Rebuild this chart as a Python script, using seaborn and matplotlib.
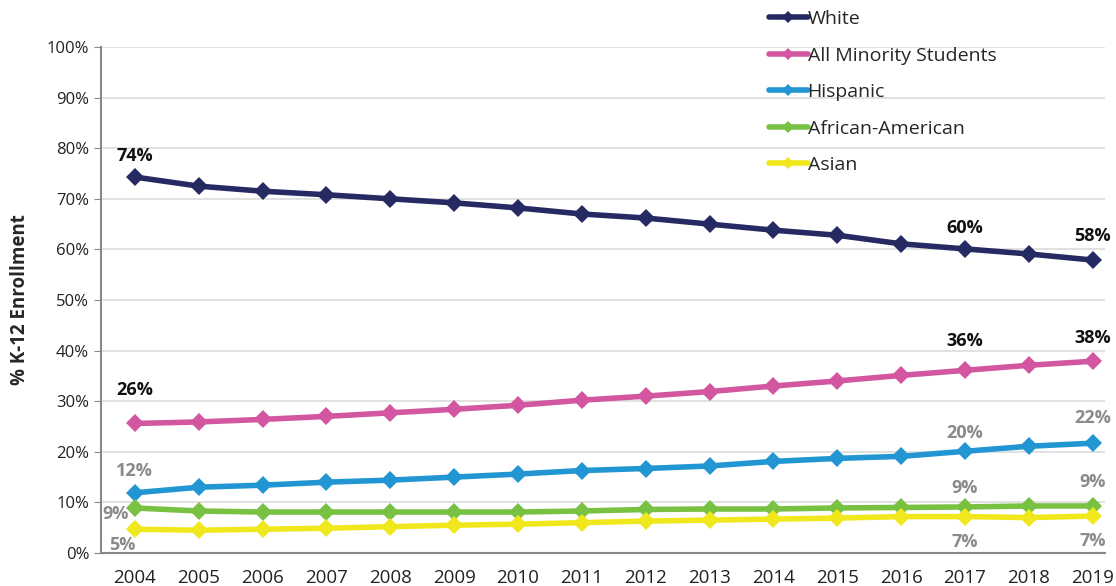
import pandas as pd
import seaborn as sns
import matplotlib.pyplot as plt
from matplotlib.ticker import PercentFormatter

# ---- data ----
years = list(range(2004, 2020))
white = [74.3, 72.5, 71.5, 70.8, 70.0, 69.2, 68.2, 67.0, 66.2, 65.0, 63.8, 62.8, 61.1, 60.1, 59.1, 57.9]
minority = [25.6, 25.9, 26.4, 27.0, 27.7, 28.4, 29.2, 30.2, 31.0, 31.9, 33.0, 34.0, 35.1, 36.1, 37.1, 37.9]
hispanic = [11.9, 13.0, 13.4, 14.0, 14.4, 15.0, 15.6, 16.3, 16.7, 17.2, 18.1, 18.7, 19.1, 20.1, 21.1, 21.7]
african_american = [8.9, 8.3, 8.1, 8.1, 8.1, 8.1, 8.1, 8.3, 8.6, 8.7, 8.7, 8.9, 9.0, 9.1, 9.3, 9.3]
asian = [4.7, 4.5, 4.7, 4.9, 5.2, 5.5, 5.7, 6.0, 6.3, 6.5, 6.7, 6.9, 7.2, 7.2, 7.0, 7.3]

series = ["White", "All Minority Students", "Hispanic", "African-American", "Asian"]
colors = ["#262a63", "#d257a0", "#2196d3", "#79c142", "#f0e81c"]
label_years = [2004, 2017, 2019]

df = pd.DataFrame({"Year": years, "White": white, "All Minority Students": minority,
                   "Hispanic": hispanic, "African-American": african_american, "Asian": asian})
long = df.melt(id_vars="Year", var_name="Group", value_name="Pct")

sns.set_style("white")
plt.rcParams["font.family"] = ["Open Sans", "DejaVu Sans"]

fig = plt.figure(figsize=(11.16, 5.86), dpi=100)
ax = fig.add_axes([0.0905, 0.0563, 0.9, 0.8635])

sns.lineplot(data=long, x="Year", y="Pct", hue="Group", hue_order=series,
             palette=colors, marker="D", markersize=9, markeredgewidth=0,
             linewidth=4, ax=ax)

ax.set_ylim(0, 100)
ax.set_xlim(2003.47, 2019.2)
ax.set_yticks(range(0, 101, 10))
ax.set_xticks(years)
ax.yaxis.set_major_formatter(PercentFormatter(decimals=0))
ax.grid(axis="y", color="#dcdcdc", linewidth=1.2)
ax.set_axisbelow(True)
for side in ["top", "right"]:
    ax.spines[side].set_visible(False)
for side in ["left", "bottom"]:
    ax.spines[side].set_color("#888888")
    ax.spines[side].set_linewidth(1.5)
ax.tick_params(axis="y", which="major", left=True, length=5, color="#888888", labelsize=12, colors="#222222")
ax.tick_params(axis="x", labelsize=13.5, colors="#222222", pad=8)
ax.set_xlabel("")
ax.set_ylabel("% K-12 Enrollment", fontsize=13.5, fontweight="bold", labelpad=12)

# ---- value labels ----
values = {"White": white, "All Minority Students": minority, "Hispanic": hispanic,
          "African-American": african_american, "Asian": asian}
label_text = {
    "White": ["74%", "60%", "58%"],
    "All Minority Students": ["26%", "36%", "38%"],
    "Hispanic": ["12%", "20%", "22%"],
    "African-American": ["9%", "9%", "9%"],
    "Asian": ["5%", "7%", "7%"],
}
# offsets in points (dx, dy) for each labelled year
offsets = {
    "White": [(0, 15), (0, 15), (0, 17)],
    "All Minority Students": [(0, 24), (0, 21), (0, 17)],
    "Hispanic": [(0, 16), (0, 13), (0, 18)],
    "African-American": [(-14, -4), (0, 14), (0, 17)],
    "Asian": [(-9, -11), (0, -18), (0, -18)],
}
for name in series:
    bold_black = name in ("White", "All Minority Students")
    col = "#111111" if bold_black else "#8a8a8a"
    for i, yr in enumerate(label_years):
        v = values[name][years.index(yr)]
        ax.annotate(label_text[name][i], (yr, v), xytext=offsets[name][i],
                    textcoords="offset points", ha="center", va="center",
                    fontsize=13, fontweight="bold", color=col)

leg = ax.legend(loc="upper left", bbox_to_anchor=(0.657, 1.088), frameon=False,
                fontsize=14, handlelength=2.0, handletextpad=0.0, labelspacing=0.95,
                borderaxespad=0)
for h in leg.legend_handles:
    h.set_linewidth(4)
    h.set_markersize(6)

fig.savefig("out.png", dpi=100)
